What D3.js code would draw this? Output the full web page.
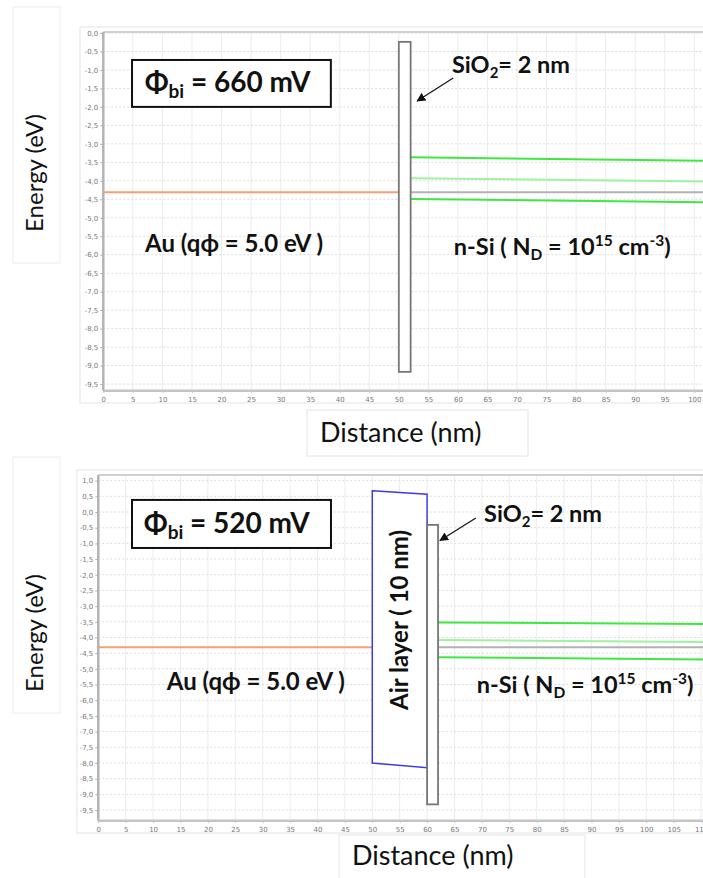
<!DOCTYPE html>
<html><head><meta charset="utf-8">
<script src="https://cdn.jsdelivr.net/npm/d3@7"></script>
<style>
html,body{margin:0;padding:0;background:#fff;}
svg{display:block;}
</style></head>
<body>
<script>
// ---------- DATA ----------
const xTicksTop = [0,5,10,15,20,25,30,35,40,45,50,55,60,65,70,75,80,85,90,95,100];
const yTicksTop = [0,-0.5,-1,-1.5,-2,-2.5,-3,-3.5,-4,-4.5,-5,-5.5,-6,-6.5,-7,-7.5,-8,-8.5,-9,-9.5];
const xTicksBot = [0,5,10,15,20,25,30,35,40,45,50,55,60,65,70,75,80,85,90,95,100,105,110];
const yTicksBot = [1,0.5,0,-0.5,-1,-1.5,-2,-2.5,-3,-3.5,-4,-4.5,-5,-5.5,-6,-6.5,-7,-7.5,-8,-8.5,-9,-9.5];

// top panel (no air layer)
const auFermiTop = [[0,-4.31],[50,-4.31]];
const oxideTop = [50,52,-0.24,-9.17];            // x0,x1,Etop,Ebottom
const ecTop = [[52,-3.36],[101.5,-3.46]];
const eiTop = [[52,-3.93],[101.5,-4.02]];
const efTop = [[52,-4.31],[101.5,-4.31]];
const evTop = [[52,-4.49],[101.5,-4.58]];

// bottom panel (air layer 10 nm)
const auFermiBot = [[0,-4.31],[50,-4.31]];
const airBot = [[50,0.68],[60,0.57],[60,-8.15],[50,-8.0]];
const oxideBot = [60,62,-0.41,-9.32];
const ecBot = [[62,-3.52],[110.4,-3.57]];
const eiBot = [[62,-4.08],[110.4,-4.14]];
const efBot = [[62,-4.31],[110.4,-4.31]];
const evBot = [[62,-4.63],[110.4,-4.70]];

const titles = ["660 mV","520 mV"];
const auLabel = "Au (qϕ = 5.0 eV )";

// ---------- DRAW ----------
const W = 703, H = 878;
const svg = d3.select("body").append("svg").attr("width",W).attr("height",H);
const FONT = "Lato, 'Open Sans', sans-serif";

const defs = svg.append("defs");
defs.append("marker").attr("id","arrow").attr("viewBox","0 0 10 10")
  .attr("refX",9).attr("refY",5).attr("markerWidth",9).attr("markerHeight",9)
  .attr("markerUnits","userSpaceOnUse").attr("orient","auto")
  .append("path").attr("d","M0,0 L10,5 L0,10 z").attr("fill","#111");

const fmt = v => d3.format(".1f")(v).replace(".",",").replace("−","-");

function panel(cfg){
  const x = d3.scaleLinear().domain(cfg.xDom).range(cfg.xRange);
  const y = d3.scaleLinear().domain(cfg.yDom).range(cfg.yRange);
  const g = svg.append("g");
  const [x0,x1] = cfg.xRange, [yb,yt] = cfg.yRange;

  // outer light frame
  g.append("rect").attr("x",cfg.frame[0]).attr("y",cfg.frame[1])
    .attr("width",W+10-cfg.frame[0]).attr("height",cfg.frame[2]-cfg.frame[1])
    .attr("fill","#fff").attr("stroke","#e3e3e3").attr("stroke-width",1);

  // grid
  g.append("g").selectAll("line").data(cfg.xTicks).join("line")
    .attr("x1",d=>x(d)).attr("x2",d=>x(d)).attr("y1",yt).attr("y2",yb)
    .attr("stroke","#ececec").attr("stroke-width",1);
  g.append("g").selectAll("line").data(cfg.yTicks).join("line")
    .attr("x1",x0).attr("x2",x1).attr("y1",d=>y(d)).attr("y2",d=>y(d))
    .attr("stroke","#dcdcdc").attr("stroke-width",1).attr("stroke-dasharray","2,2");

  // axes
  const ya = g.append("g").attr("transform",`translate(${x0},0)`)
    .call(d3.axisLeft(y).tickValues(cfg.yTicks).tickFormat(fmt).tickSize(3).tickPadding(2));
  ya.select(".domain").remove();
  ya.selectAll("line").attr("stroke","#aaa");
  ya.selectAll("text").attr("fill","#777").attr("font-size","7px").attr("font-family","'DejaVu Sans',sans-serif");
  const xa = g.append("g").attr("transform",`translate(0,${yb})`)
    .call(d3.axisBottom(x).tickValues(cfg.xTicks).tickFormat(d3.format("d")).tickSize(2).tickPadding(4));
  xa.select(".domain").remove();
  xa.selectAll("line").attr("stroke","#aaa");
  xa.selectAll("text").attr("fill","#777").attr("font-size","7px").attr("font-family","'DejaVu Sans',sans-serif");

  g.append("line").attr("x1",x0).attr("x2",x1).attr("y1",yt).attr("y2",yt).attr("stroke","#d0d0d0").attr("stroke-width",2);
  g.append("line").attr("x1",x0).attr("x2",x0).attr("y1",yt).attr("y2",yb).attr("stroke","#b4b4b4").attr("stroke-width",2.5);
  g.append("line").attr("x1",x0).attr("x2",x1).attr("y1",yb).attr("y2",yb).attr("stroke","#c4c4c4").attr("stroke-width",2.5);

  const line = d3.line().x(d=>x(d[0])).y(d=>y(d[1]));
  // bands
  g.append("path").attr("d",line(cfg.au)).attr("fill","none").attr("stroke","#f5a06e").attr("stroke-width",2);
  g.append("path").attr("d",line(cfg.ef)).attr("fill","none").attr("stroke","#b2b2b2").attr("stroke-width",2);
  g.append("path").attr("d",line(cfg.ec)).attr("fill","none").attr("stroke","#3fe83f").attr("stroke-width",2);
  g.append("path").attr("d",line(cfg.ei)).attr("fill","none").attr("stroke","#a2f0a2").attr("stroke-width",2);
  g.append("path").attr("d",line(cfg.ev)).attr("fill","none").attr("stroke","#3fe83f").attr("stroke-width",2);

  // air layer
  if(cfg.air){
    g.append("path").attr("d",line(cfg.air)+"Z").attr("fill","#fff").attr("stroke","#3b3be8").attr("stroke-width",1.5);
    const ax = d3.mean(cfg.air,d=>d[0]);
    g.append("text").attr("transform",`translate(${x(ax)+8},${y(cfg.airTextY)}) rotate(-90)`)
      .attr("text-anchor","middle").attr("font-family",FONT).attr("font-weight","bold")
      .attr("font-size","24px").attr("fill","#111").text("Air layer ( 10 nm)");
  }
  // oxide
  const ox = cfg.oxide;
  g.append("rect").attr("x",x(ox[0])).attr("y",y(ox[2])).attr("width",x(ox[1])-x(ox[0])).attr("height",y(ox[3])-y(ox[2]))
    .attr("fill","#fff").attr("stroke","#777").attr("stroke-width",1.8);

  // title box
  const tb = cfg.titleBox;
  g.append("rect").attr("x",x(tb[0])).attr("y",y(tb[2])).attr("width",x(tb[1])-x(tb[0])).attr("height",y(tb[3])-y(tb[2]))
    .attr("fill","#fff").attr("stroke","#111").attr("stroke-width",2);
  const tt = g.append("text").attr("x",x(cfg.titlePos[0])).attr("y",y(cfg.titlePos[1]))
    .attr("font-family",FONT).attr("font-weight","bold").attr("font-size","28px").attr("fill","#111");
  tt.append("tspan").text("Φ");
  tt.append("tspan").attr("font-size","19px").attr("dy","6").text("bi");
  tt.append("tspan").attr("dy","-6").text(" = " + cfg.title);

  // SiO2 label + arrow
  const st = g.append("text").attr("x",x(cfg.sioPos[0])).attr("y",y(cfg.sioPos[1]))
    .attr("font-family",FONT).attr("font-weight","bold").attr("font-size","23.5px").attr("fill","#111");
  st.append("tspan").text("SiO");
  st.append("tspan").attr("font-size","15px").attr("dy","5").text("2");
  st.append("tspan").attr("dy","-5").text("= 2 nm");
  g.append("line").attr("x1",x(cfg.arrow[0])).attr("y1",y(cfg.arrow[1])).attr("x2",x(cfg.arrow[2])).attr("y2",y(cfg.arrow[3]))
    .attr("stroke","#111").attr("stroke-width",1.2).attr("marker-end","url(#arrow)");

  // Au label
  g.append("text").attr("x",x(cfg.auPos[0])).attr("y",y(cfg.auPos[1]))
    .attr("font-family",FONT).attr("font-weight","bold").attr("font-size","24px").attr("fill","#111").text(auLabel);
  // n-Si label
  const nt = g.append("text").attr("x",x(cfg.nsiPos[0])).attr("y",y(cfg.nsiPos[1]))
    .attr("font-family",FONT).attr("font-weight","bold").attr("font-size","23.5px").attr("fill","#111");
  nt.append("tspan").text("n-Si ( N");
  nt.append("tspan").attr("font-size","15.5px").attr("dy","5").text("D");
  nt.append("tspan").attr("dy","-5").text(" = 10");
  nt.append("tspan").attr("font-size","15.5px").attr("dy","-9").text("15");
  nt.append("tspan").attr("dy","9").text(" cm");
  nt.append("tspan").attr("font-size","15.5px").attr("dy","-9").text("-3");
  nt.append("tspan").attr("dy","9").text(")");

  // axis title boxes
  const yb2 = cfg.yLabelBox;
  g.append("rect").attr("x",yb2[0]).attr("y",yb2[1]).attr("width",yb2[2]-yb2[0]).attr("height",yb2[3]-yb2[1])
    .attr("fill","#fff").attr("stroke","#ececec").attr("stroke-width",1);
  g.append("text").attr("transform",`translate(${yb2[0]+30},${cfg.yLabelCy}) rotate(-90)`)
    .attr("text-anchor","middle").attr("font-family",FONT).attr("font-size","24px").attr("fill","#111").text("Energy (eV)");
  const xb2 = cfg.xLabelBox;
  g.append("rect").attr("x",xb2[0]).attr("y",xb2[1]).attr("width",xb2[2]-xb2[0]).attr("height",xb2[3]-xb2[1])
    .attr("fill","#fff").attr("stroke","#e3e3e3").attr("stroke-width",1);
  g.append("text").attr("x",cfg.xLabelPos[0]).attr("y",cfg.xLabelPos[1])
    .attr("font-family",FONT).attr("font-size","27px").attr("fill","#111").text("Distance (nm)");
}

panel({
  xDom:[0,101.5], xRange:[103.3,703.2], yDom:[-9.68,0.027], yRange:[390.7,32],
  xTicks:xTicksTop, yTicks:yTicksTop, frame:[80,27,403],
  au:auFermiTop, oxide:oxideTop, ec:ecTop, ei:eiTop, ef:efTop, ev:evTop,
  titleBox:[4.86,38.5,-0.73,-2.0], titlePos:[7.0,-1.6], title:titles[0],
  sioPos:[59.0,-1.08], arrow:[59.2,-1.22,53.1,-1.84],
  auPos:[7.07,-5.93], nsiPos:[59.3,-6.0],
  yLabelBox:[13,7,60,263], yLabelCy:173,
  xLabelBox:[307,410,528,456], xLabelPos:[320,442]
});
panel({
  xDom:[0,110.35], xRange:[98.3,703], yDom:[-9.84,1.18], yRange:[820.7,475],
  xTicks:xTicksBot, yTicks:yTicksBot, frame:[77,470,833],
  air:airBot, airTextY:-3.44,
  au:auFermiBot, oxide:oxideBot, ec:ecBot, ei:eiBot, ef:efBot, ev:evBot,
  titleBox:[6.15,42.46,0.385,-1.146], titlePos:[8.3,-0.68], title:titles[1],
  sioPos:[70.4,-0.32], arrow:[68.9,-0.19,62.35,-0.91],
  auPos:[12.5,-5.67], nsiPos:[69.05,-5.77],
  yLabelBox:[13,457,60,713], yLabelCy:633,
  xLabelBox:[339,835,585,890], xLabelPos:[352,865]
});
</script>
</body></html>
